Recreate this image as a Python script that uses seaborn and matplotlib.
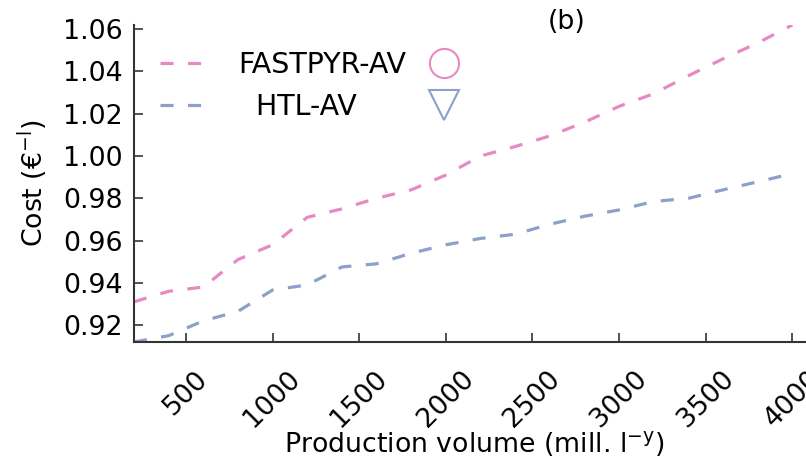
import matplotlib
matplotlib.use("Agg")
import numpy as np
import pandas as pd
import matplotlib.pyplot as plt
import seaborn as sns
from matplotlib.lines import Line2D
from matplotlib.ticker import FormatStrFormatter

# production volume (mill. l/y) and cost per series
volume = [200, 400, 600, 800, 1000, 1200, 1400, 1600, 1800, 2000,
          2200, 2400, 2600, 2800, 3000, 3200, 3400, 3600, 3800, 4000]
fastpyr = [0.931, 0.936, 0.938, 0.951, 0.958, 0.971, 0.975, 0.980, 0.984, 0.991,
           1.000, 1.0045, 1.0095, 1.016, 1.0235, 1.0295, 1.038, 1.046, 1.0535, 1.062]
htl = [0.912, 0.915, 0.922, 0.9265, 0.9366, 0.939, 0.9475, 0.949, 0.954, 0.958,
       0.961, 0.963, 0.9677, 0.9715, 0.9745, 0.9785, 0.980, 0.984, 0.9878, 0.9917]
series_names = ["FASTPYR-AV", "HTL-AV"]
legend_labels = ["FASTPYR-AV", "  HTL-AV"]
xticks = [500, 1000, 1500, 2000, 2500, 3000, 3500, 4000]
yticks = [0.92, 0.94, 0.96, 0.98, 1.00, 1.02, 1.04, 1.06]

sns.set_style("ticks")
plt.rcParams['font.family'] = ['DejaVu Sans']
plt.rcParams['lines.scale_dashes'] = False
plt.rcParams['text.color'] = 'black'
plt.rcParams['axes.labelcolor'] = 'black'
fs = 19.3
legend_fs = 20.5

pal = sns.color_palette("Set2")
colors = {"FASTPYR-AV": pal[3], "HTL-AV": pal[2]}
dash = (9.4, 10.4)

df = pd.DataFrame({
    "volume": volume * 2,
    "cost": fastpyr + htl,
    "route": [series_names[0]] * len(volume) + [series_names[1]] * len(volume),
})

fig = plt.figure(figsize=(8.06, 4.59), dpi=100)
ax = fig.add_axes([134 / 806, 117 / 459, 680 / 806, 317 / 459])

sns.lineplot(data=df, x="volume", y="cost", hue="route", style="route",
             palette=colors, dashes={n: dash for n in series_names},
             linewidth=2.3, legend=False, ax=ax)

ax.set_xlim(200, 4125)
ax.set_ylim(min(htl), max(fastpyr))
ax.set_xticks(xticks)
ax.set_yticks(yticks)
ax.yaxis.set_major_formatter(FormatStrFormatter('%.2f'))

for side in ["top", "right"]:
    ax.spines[side].set_visible(False)
for side in ["left", "bottom"]:
    ax.spines[side].set_color("#333333")
    ax.spines[side].set_linewidth(1.5)

ax.tick_params(axis="both", direction="in", length=6.5, width=1.2,
               color="#333333", labelcolor="black", labelsize=fs)
ax.tick_params(axis="y", pad=8)
ax.tick_params(axis="x", pad=17)
plt.setp(ax.get_xticklabels(), rotation=45, ha="center")

ax.set_xlabel(r"Production volume (mill. l$^{\mathregular{-y}}$)", fontsize=fs)
ax.set_ylabel(r"Cost (€$^{\mathregular{-l}}$)", fontsize=fs)
ax.xaxis.set_label_coords(0.5, -0.275)
ax.yaxis.set_label_coords(-0.124, 0.5)

handles = [
    Line2D([], [], color=colors["FASTPYR-AV"], lw=2.3, ls=(0, dash)),
    Line2D([], [], color=colors["HTL-AV"], lw=2.3, ls=(0, dash)),
    Line2D([], [], color=colors["FASTPYR-AV"], marker="o", ls="none",
           mfc="none", ms=21, mew=1.5),
    Line2D([], [], color=colors["HTL-AV"], marker="v", ls="none",
           mfc="none", ms=21, mew=1.5),
]
ax.legend(handles, legend_labels + ["", ""], ncol=2, loc="upper left",
          frameon=False, fontsize=legend_fs, numpoints=1, handlelength=1.85,
          handletextpad=0.9, columnspacing=0.4, borderpad=0.4,
          borderaxespad=0.5, labelspacing=0.5)

fig.text(567 / 806, 1 - 22 / 459, "(b)", ha="center", va="center", fontsize=fs)

fig.savefig("out.png", dpi=100)
